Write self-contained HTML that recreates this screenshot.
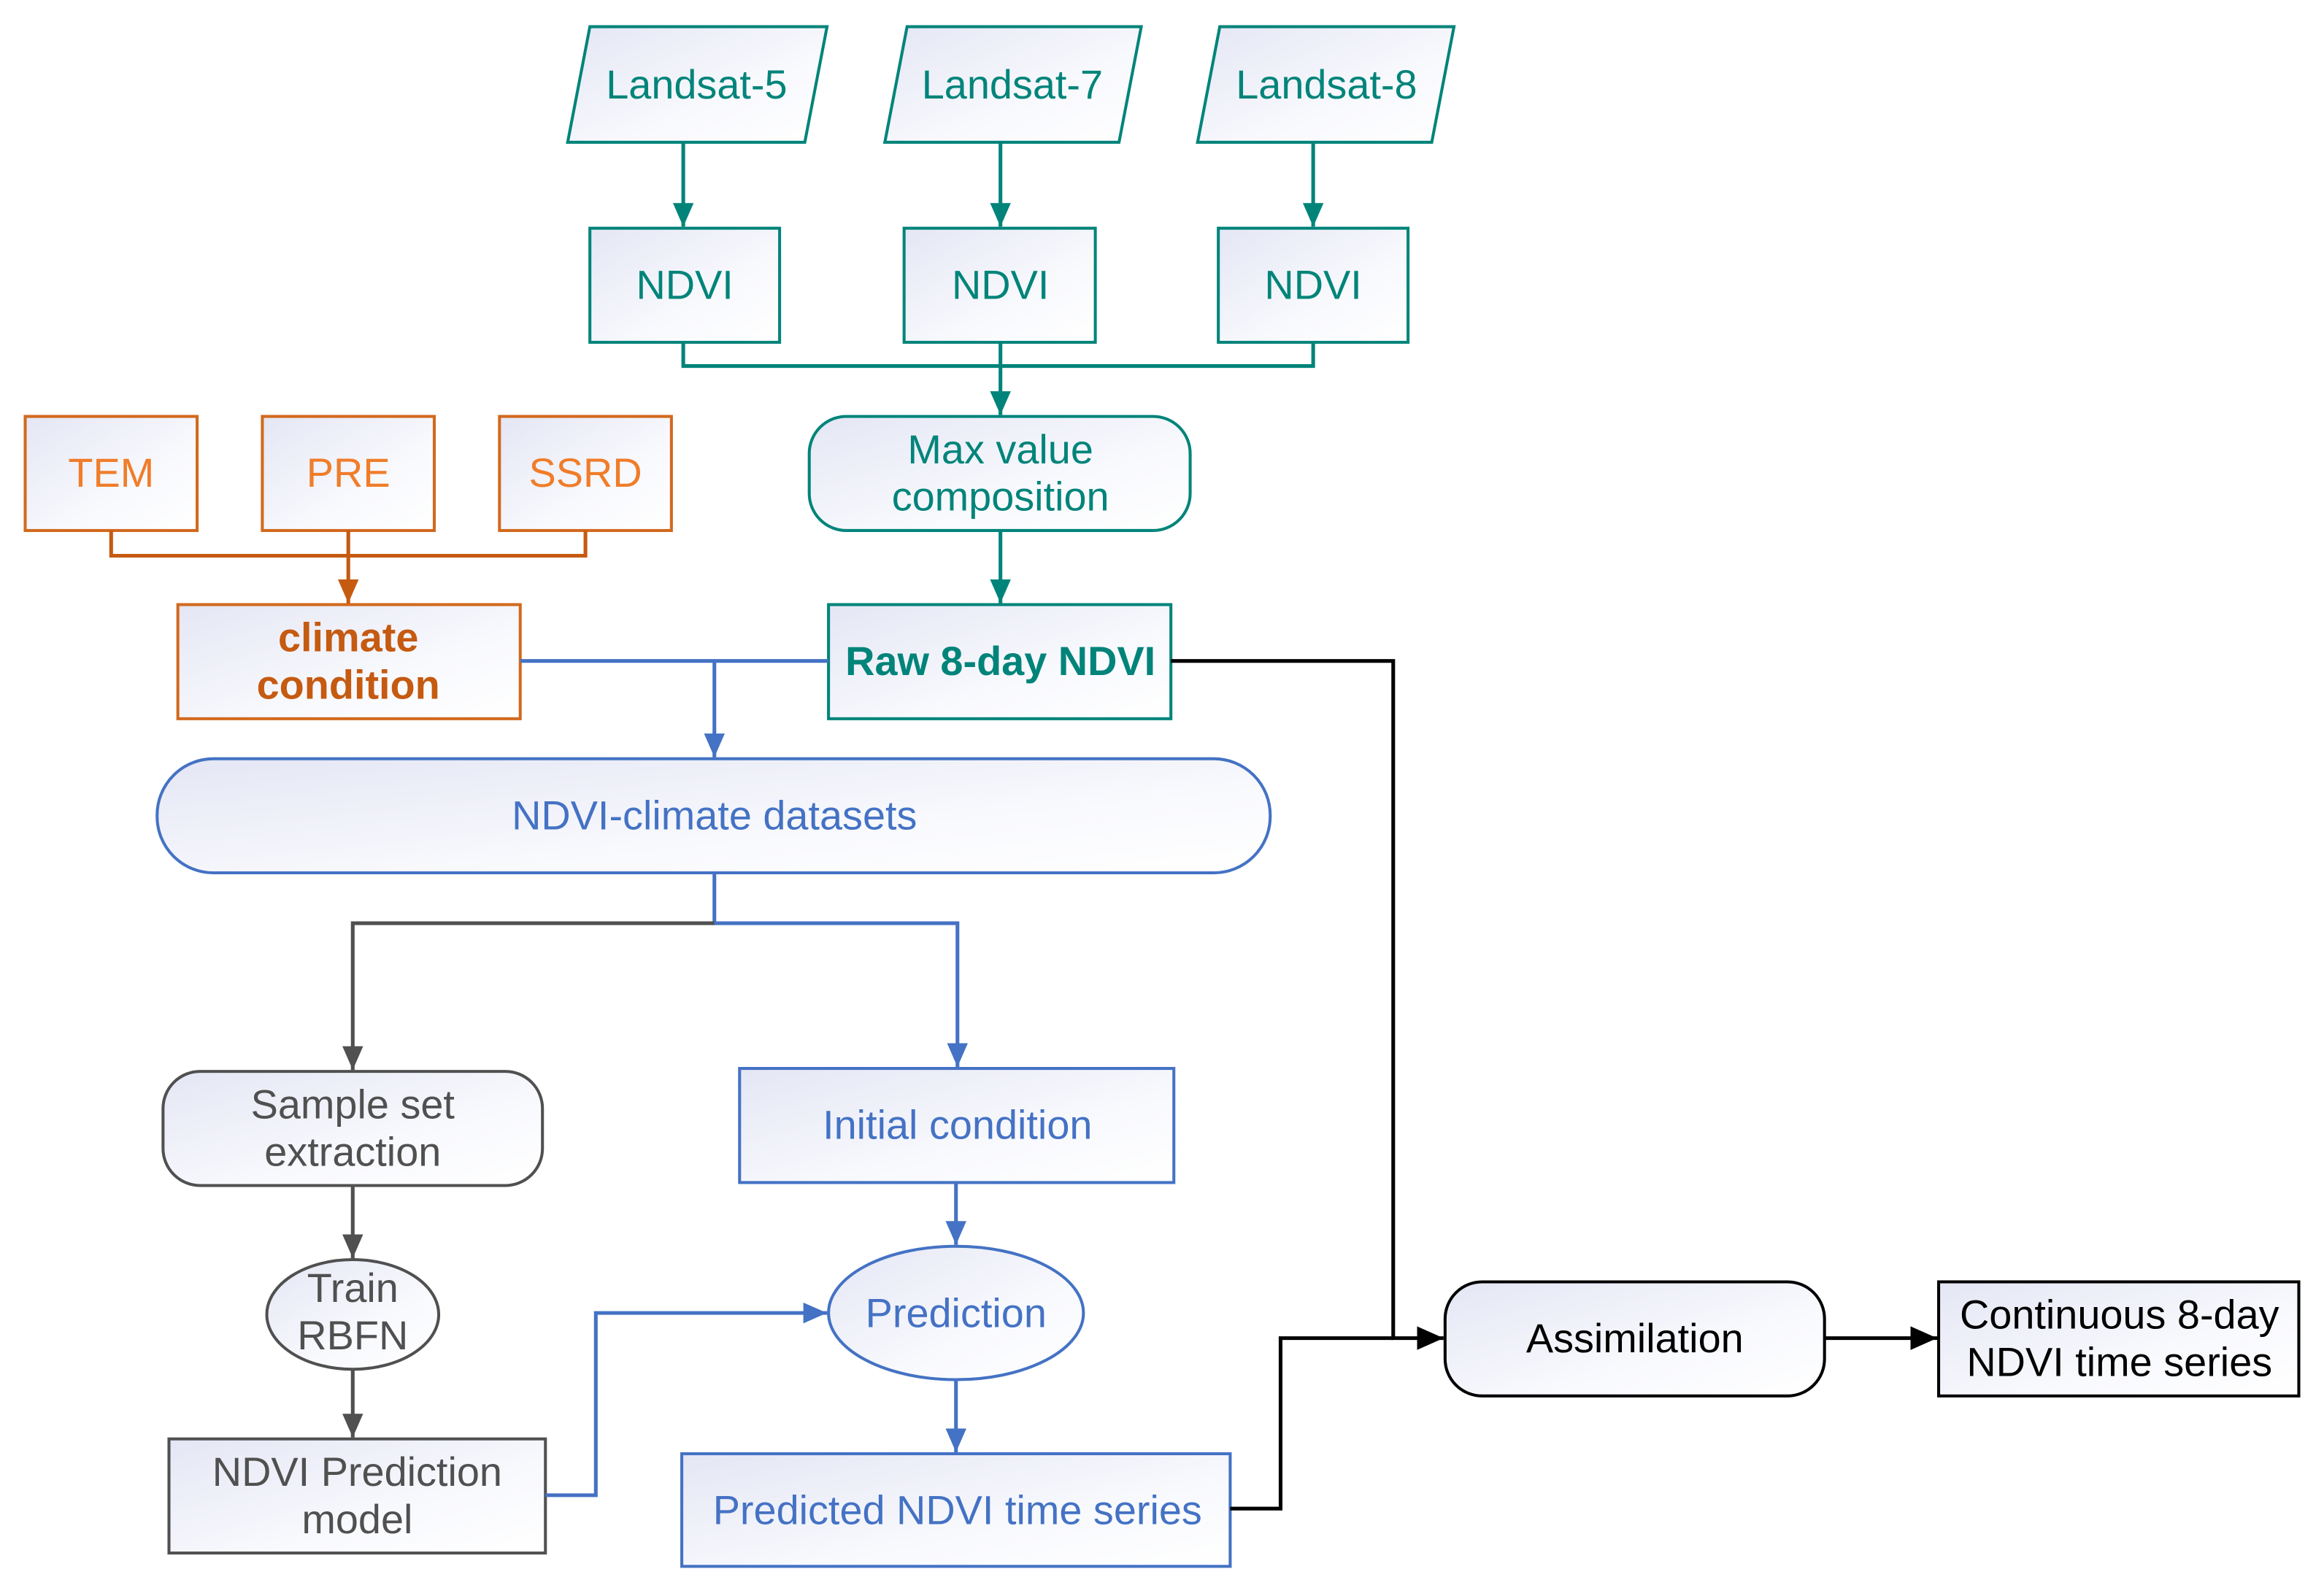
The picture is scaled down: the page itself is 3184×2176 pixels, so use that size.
<!DOCTYPE html>
<html><head><meta charset="utf-8"><style>html,body{margin:0;padding:0;background:#fff}svg{display:block}</style></head>
<body>
<svg width="3184" height="2176" viewBox="0 0 1568 1071.6" preserveAspectRatio="none" xmlns="http://www.w3.org/2000/svg" font-family="Liberation Sans, Arial, sans-serif" font-size="27.5">
<defs>
<linearGradient id="g" x1="0" y1="0" x2="1" y2="1"><stop offset="0" stop-color="#E4E6F4"/><stop offset="0.6" stop-color="#F8F9FD"/><stop offset="1" stop-color="#FFFFFF"/></linearGradient>
<marker id="mb" markerWidth="16" markerHeight="14" refX="16" refY="7" orient="auto" markerUnits="userSpaceOnUse"><path d="M0,0 L16,7 L0,14 z" fill="#4472C4"/></marker>
<marker id="mo" markerWidth="16" markerHeight="14" refX="16" refY="7" orient="auto" markerUnits="userSpaceOnUse"><path d="M0,0 L16,7 L0,14 z" fill="#C55A11"/></marker>
<marker id="mg" markerWidth="16" markerHeight="14" refX="16" refY="7" orient="auto" markerUnits="userSpaceOnUse"><path d="M0,0 L16,7 L0,14 z" fill="#505050"/></marker>
<marker id="mk" markerWidth="18" markerHeight="16" refX="18" refY="8" orient="auto" markerUnits="userSpaceOnUse"><path d="M0,0 L18,8 L0,16 z" fill="#000"/></marker>
<marker id="mtl" markerWidth="16" markerHeight="14" refX="16" refY="7" orient="auto" markerUnits="userSpaceOnUse"><path d="M0,0 L16,7 L0,14 z" fill="#00847A"/></marker>
</defs>
<g fill="url(#g)" stroke-width="2">
<g stroke="#00847A">
<polygon points="398,18 558,18 543,96 383,96"/>
<polygon points="612,18 770,18 755,96 597,96"/>
<polygon points="823,18 981,18 966,96 808,96"/>
<rect x="398" y="154" width="128" height="77"/>
<rect x="610" y="154" width="129" height="77"/>
<rect x="822" y="154" width="128" height="77"/>
<rect x="546" y="281" width="257" height="77" rx="25"/>
<rect x="559" y="408" width="231" height="77"/>
</g>
<g stroke="#D2691E">
<rect x="17" y="281" width="116" height="77"/>
<rect x="177" y="281" width="116" height="77"/>
<rect x="337" y="281" width="116" height="77"/>
<rect x="120" y="408" width="231" height="77"/>
</g>
<g stroke="#4472C4">
<rect x="106" y="512" width="751" height="77" rx="38"/>
<rect x="499" y="721" width="293" height="77"/>
<ellipse cx="645" cy="886" rx="86" ry="45"/>
<rect x="460" y="981" width="370" height="76"/>
</g>
<g stroke="#505050">
<rect x="110" y="723" width="256" height="77" rx="25"/>
<ellipse cx="238" cy="887" rx="58" ry="37"/>
<rect x="114" y="971" width="254" height="77"/>
</g>
<g stroke="#000">
<rect x="975" y="865" width="256" height="77" rx="25"/>
<rect x="1308" y="865" width="243" height="77"/>
</g>
</g>
<g fill="none" stroke-width="2.5">
<g stroke="#00847A">
<path d="M461,96 V153" marker-end="url(#mtl)"/>
<path d="M675,96 V153" marker-end="url(#mtl)"/>
<path d="M886,96 V153" marker-end="url(#mtl)"/>
<path d="M461,231 V247 H886 V231"/>
<path d="M675,231 V280" marker-end="url(#mtl)"/>
<path d="M675,358 V407" marker-end="url(#mtl)"/>
</g>
<g stroke="#C55A11">
<path d="M75,358 V375 H395 V358"/>
<path d="M235,358 V407" marker-end="url(#mo)"/>
</g>
<g stroke="#4472C4">
<path d="M351,446 H559"/>
<path d="M482,446 V511" marker-end="url(#mb)"/>
<path d="M482,589 V623 H646 V720" marker-end="url(#mb)"/>
<path d="M645,798 V840" marker-end="url(#mb)"/>
<path d="M645,931 V980" marker-end="url(#mb)"/>
<path d="M368,1009 H402 V886 H558" marker-end="url(#mb)"/>
</g>
<g stroke="#505050">
<path d="M482,623 H238 V722" marker-end="url(#mg)"/>
<path d="M238,800 V849" marker-end="url(#mg)"/>
<path d="M238,924 V970" marker-end="url(#mg)"/>
</g>
<g stroke="#000">
<path d="M790,446 H940 V903 H974" marker-end="url(#mk)"/>
<path d="M830,1018 H864 V903 H940"/>
<path d="M1231,903 H1307" marker-end="url(#mk)"/>
</g>
</g>
<g text-anchor="middle" dominant-baseline="central">
<g fill="#00847A">
<text x="470" y="57">Landsat-5</text>
<text x="683" y="57">Landsat-7</text>
<text x="895" y="57">Landsat-8</text>
<text x="462" y="192">NDVI</text>
<text x="675" y="192">NDVI</text>
<text x="886" y="192">NDVI</text>
<text x="675" y="303">Max value</text>
<text x="675" y="335">composition</text>
<text x="675" y="446" font-weight="bold">Raw 8-day NDVI</text>
</g>
<g fill="#F07D2A">
<text x="75" y="319">TEM</text>
<text x="235" y="319">PRE</text>
<text x="395" y="319">SSRD</text>
</g>
<g fill="#C55A11" font-weight="bold">
<text x="235" y="430">climate</text>
<text x="235" y="462">condition</text>
</g>
<g fill="#4472C4">
<text x="482" y="550">NDVI-climate datasets</text>
<text x="646" y="759">Initial condition</text>
<text x="645" y="886">Prediction</text>
<text x="646" y="1019">Predicted NDVI time series</text>
</g>
<g fill="#505050">
<text x="238" y="745">Sample set</text>
<text x="238" y="777">extraction</text>
<text x="238" y="869">Train</text>
<text x="238" y="901">RBFN</text>
<text x="241" y="993">NDVI Prediction</text>
<text x="241" y="1025">model</text>
</g>
<g fill="#000">
<text x="1103" y="903">Assimilation</text>
<text x="1430" y="887">Continuous 8-day</text>
<text x="1430" y="919">NDVI time series</text>
</g>
</g>
</svg>
</body></html>
